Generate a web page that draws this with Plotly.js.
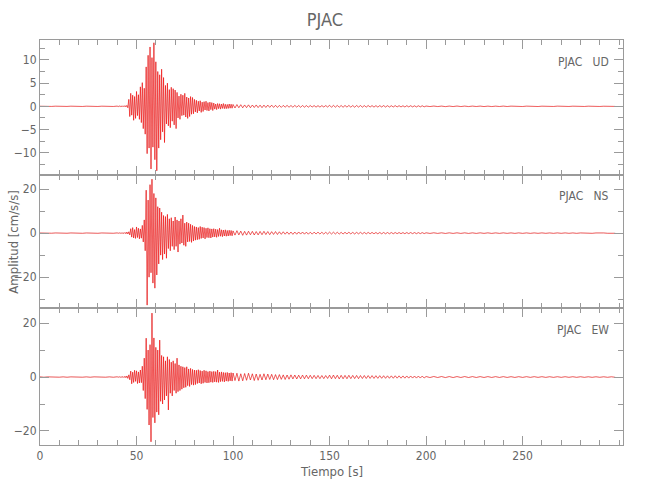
<!DOCTYPE html>
<html>
<head>
<meta charset="utf-8">
<script src="https://cdn.plot.ly/plotly-3.0.1.min.js"></script>
<style>html,body{margin:0;padding:0;background:#fff;}#chart{width:650px;height:500px;}</style>
</head>
<body>
<div id="chart"></div>
<script>
// Station / component labels
const station = "PJAC";
const components = ["UD", "NS", "EW"];
const xTickVals = [0, 50, 100, 150, 200, 250];

// Sampling: pre-event 0-38 s every 2 s, main 40-99.5 s every 0.5 s,
// early coda 100-199 s every 1 s, late coda 200-298 s every 2 s
const preStart = 0, preDt = 2;
const mainStart = 40, mainDt = 0.5;
const codaStart = 100, codaDt = 1;
const lateStart = 200, lateDt = 2;

// UD component (cm/s/s)
const udPre = [0.02,-0.03,0.03,-0.02,0.03,-0.03,0.02,-0.02,0.03,-0.03,0.02,-0.03,0.03,-0.02,0.02,-0.03,0.03,-0.02,0.03,-0.03];
const udMain = [0.05,-0.08,0.1,-0.06,0.08,-0.1,0.12,-0.09,0.15,-0.12,0.2,-0.3,
  1.5,-2.2,2.8,-1.9,2.4,-3.0,2.1,-2.6,3.2,-2.0,2.5,-2.8,
  4.2,-3.5,5.1,-4.8,3.9,-6.0,
  8.5,-10.2,11.0,-9.0,12.8,-13.5,10.5,-8.8,13.7,-11.5,9.6,-13.9,
  7.5,-9.0,6.8,-7.2,8.0,-5.5,6.2,-7.8,
  4.5,-3.8,5.0,-4.2,3.6,-4.6,4.1,-3.2,3.8,-4.0,3.5,-4.8,
  3.0,-2.5,2.2,-2.8,2.6,-2.0,2.4,-1.9,2.8,-2.3,2.0,-2.6,1.8,-2.2,2.1,-1.7,1.9,-1.6,
  1.5,-1.2,1.3,-1.4,1.1,-1.0,1.2,-1.3,0.9,-1.1,1.0,-0.8,1.1,-0.9,0.8,-1.0,0.9,-0.7,0.8,-0.9,
  0.7,-0.6,0.5,-0.7,0.6,-0.5,0.55,-0.6,0.5,-0.45,0.6,-0.5,0.45,-0.5,0.4,-0.45,0.5,-0.4,0.45,-0.4];
const udCoda = [0.4,-0.35,0.38,-0.3,0.35,-0.32,0.3,-0.28,0.32,-0.3,0.28,-0.25,0.3,-0.27,0.25,-0.28,0.26,-0.24,0.27,-0.22,0.25,-0.23,0.22,-0.24,0.2,
  -0.22,0.2,-0.18,0.21,-0.2,0.18,-0.19,0.2,-0.17,0.18,-0.2,0.17,-0.18,0.16,-0.18,0.17,-0.15,0.16,-0.17,0.15,-0.16,0.15,-0.14,0.16,-0.15,
  0.22,-0.2,0.21,-0.18,0.2,-0.19,0.18,-0.2,0.19,-0.17,0.2,-0.18,0.17,-0.19,0.18,-0.16,0.17,-0.18,0.16,-0.17,0.18,-0.15,0.16,-0.17,0.15,
  -0.16,0.15,-0.14,0.16,-0.15,0.14,-0.15,0.13,-0.14,0.15,-0.13,0.14,-0.13,0.12,-0.14,0.13,-0.12,0.13,-0.12,0.11,-0.13,0.12,-0.11,0.12,-0.11];
const udLate = [0.06,-0.05,0.06,-0.05,0.05,-0.06,0.05,-0.05,0.06,-0.05,0.05,-0.05,0.05,-0.04,0.05,-0.05,0.04,-0.05,0.04,-0.04,0.05,-0.04,0.04,-0.04,0.04,
  -0.04,0.04,-0.03,0.04,-0.04,0.03,-0.04,0.03,-0.03,0.04,-0.03,0.03,-0.03,0.03,-0.03,0.03,-0.03,0.03,-0.02,0.03,-0.03,0.02,-0.03,0.02,-0.02];

// NS component (cm/s/s)
const nsPre = [0.06,-0.08,0.07,-0.05,0.08,-0.07,0.05,-0.06,0.08,-0.07,0.06,-0.08,0.07,-0.06,0.05,-0.08,0.07,-0.06,0.08,-0.07];
const nsMain = [0.1,-0.1,0.15,-0.1,0.1,-0.15,0.2,-0.2,0.3,-0.3,0.5,-0.4,0.6,-0.8,
  2.0,-1.8,2.5,-2.2,1.6,-2.4,2.8,-2.0,2.2,-2.6,1.9,-2.3,
  3.5,-4.0,6.0,-8.0,
  19.5,-32.7,15.0,-20.0,22.0,-18.0,24.5,-22.7,18.0,-25.0,16.0,-19.0,
  12.0,-14.0,11.4,-10.0,9.5,-12.0,8.0,-9.5,
  7.5,-11.4,8.5,-7.0,6.5,-8.0,7.0,-6.0,5.5,-7.5,7.3,-6.0,
  6.0,-8.6,5.5,-5.0,6.5,-4.5,8.2,-5.5,4.5,-6.0,5.0,-4.0,4.5,-3.8,4.0,-4.2,3.5,-3.6,
  3.0,-3.2,2.8,-3.0,2.5,-2.8,3.0,-2.4,2.7,-2.2,2.5,-2.6,2.2,-2.0,2.4,-2.1,2.0,-2.2,1.9,-1.8,
  2.0,-1.7,1.8,-1.9,1.6,-1.5,2.2,-1.4,1.5,-1.6,1.4,-1.3,1.5,-1.4,1.2,-1.3,1.3,-1.1,1.2,-1.2];
const nsCoda = [1.0,-0.9,1.1,-0.8,0.9,-1.0,0.8,-0.9,0.85,-0.75,0.8,-0.85,0.7,-0.8,0.75,-0.7,0.8,-0.65,0.7,-0.7,0.65,-0.6,0.7,-0.62,0.6,
  -0.55,0.6,-0.5,0.55,-0.52,0.5,-0.55,0.48,-0.5,0.52,-0.45,0.5,-0.48,0.45,-0.5,0.42,-0.45,0.44,-0.4,0.45,-0.42,0.4,-0.43,0.38,-0.4,
  0.45,-0.4,0.42,-0.38,0.4,-0.42,0.36,-0.4,0.38,-0.35,0.4,-0.36,0.34,-0.38,0.35,-0.33,0.36,-0.34,0.32,-0.35,0.33,-0.31,0.34,-0.32,0.3,
  -0.32,0.3,-0.31,0.29,-0.3,0.28,-0.3,0.27,-0.29,0.28,-0.26,0.28,-0.27,0.25,-0.27,0.26,-0.25,0.26,-0.24,0.25,-0.25,0.23,-0.24,0.24,-0.22];
const nsLate = [0.15,-0.14,0.15,-0.13,0.14,-0.15,0.13,-0.14,0.14,-0.13,0.13,-0.14,0.12,-0.13,0.13,-0.12,0.12,-0.13,0.11,-0.12,0.12,-0.11,0.11,-0.12,0.11,
  -0.11,0.1,-0.11,0.1,-0.1,0.11,-0.1,0.09,-0.1,0.1,-0.09,0.1,-0.09,0.09,-0.1,0.09,-0.08,0.09,-0.09,0.08,-0.09,0.08,-0.08,0.08,-0.08];

// EW component (cm/s/s)
const ewPre = [0.07,-0.08,0.06,-0.07,0.08,-0.06,0.07,-0.08,0.06,-0.07,0.08,-0.07,0.06,-0.08,0.07,-0.06,0.08,-0.07,0.06,-0.08];
const ewMain = [0.1,-0.1,0.15,-0.12,0.1,-0.15,0.2,-0.2,0.3,-0.25,0.4,-0.5,0.8,-1.0,
  2.2,-2.5,1.8,-2.0,2.5,-1.6,2.3,-2.4,1.9,-2.2,2.6,-2.1,
  4.0,-5.0,7.0,-8.0,
  14.4,-12.0,10.0,-17.8,12.0,-24.0,23.7,-15.0,14.5,-17.0,11.0,-13.0,
  10.0,-14.0,13.7,-9.0,8.0,-10.0,7.5,-8.5,
  6.0,-7.0,7.5,-12.2,6.5,-6.0,5.5,-7.0,6.0,-5.0,5.0,-6.0,
  7.0,-5.4,4.5,-5.0,4.0,-4.5,3.8,-4.0,3.5,-3.8,3.8,-3.2,3.0,-3.5,3.2,-2.8,2.8,-3.0,
  2.6,-2.8,2.5,-2.4,2.7,-2.2,2.4,-2.5,2.2,-2.3,2.5,-2.0,2.3,-2.2,2.0,-2.1,2.2,-1.9,2.0,-2.0,
  2.1,-1.8,2.0,-1.9,2.6,-2.0,1.8,-1.7,1.9,-1.6,1.7,-1.8,1.6,-1.5,1.7,-1.6,1.5,-1.4,1.6,-1.5];
const ewCoda = [1.5,-1.3,1.4,-1.5,1.2,-1.4,1.3,-1.2,1.4,-1.1,1.2,-1.3,1.1,-1.2,1.0,-1.1,1.2,-1.0,1.1,-0.9,1.0,-1.0,0.9,-0.95,0.9,
  -0.85,0.8,-0.9,0.75,-0.8,0.8,-0.7,0.75,-0.72,0.7,-0.68,0.72,-0.65,0.7,-0.62,0.65,-0.6,0.62,-0.6,0.58,-0.6,0.55,-0.58,0.55,-0.52,
  0.7,-0.65,0.72,-0.6,0.66,-0.7,0.62,-0.64,0.6,-0.62,0.64,-0.58,0.6,-0.56,0.58,-0.6,0.55,-0.54,0.56,-0.52,0.54,-0.5,0.52,-0.5,0.5,
  -0.48,0.5,-0.46,0.48,-0.47,0.45,-0.46,0.44,-0.45,0.46,-0.42,0.44,-0.43,0.41,-0.42,0.4,-0.41,0.4,-0.39,0.38,-0.4,0.37,-0.38,0.36,-0.36];
const ewLate = [0.2,-0.19,0.2,-0.18,0.19,-0.2,0.18,-0.19,0.18,-0.17,0.18,-0.18,0.17,-0.17,0.16,-0.17,0.16,-0.16,0.15,-0.16,0.15,-0.15,0.14,-0.15,0.14,
  -0.14,0.14,-0.13,0.14,-0.13,0.13,-0.13,0.12,-0.13,0.12,-0.12,0.12,-0.11,0.12,-0.11,0.11,-0.11,0.1,-0.11,0.1,-0.1,0.1,-0.1,0.09,-0.1];

function series(pre, main, coda, late) {
  const x = [], y = [];
  pre.forEach((v, i) => { x.push(preStart + i * preDt); y.push(v); });
  main.forEach((v, i) => { x.push(mainStart + i * mainDt); y.push(v); });
  coda.forEach((v, i) => { x.push(codaStart + i * codaDt); y.push(v); });
  late.forEach((v, i) => { x.push(lateStart + i * lateDt); y.push(v); });
  return {x, y};
}

const comps = [series(udPre, udMain, udCoda, udLate), series(nsPre, nsMain, nsCoda, nsLate), series(ewPre, ewMain, ewCoda, ewLate)];
const axSuffix = ["", "2", "3"];

const traces = [];
comps.forEach((s, k) => {
  traces.push({x: s.x, y: s.y, type: "scatter", mode: "lines", xaxis: "x" + axSuffix[k], yaxis: "y" + axSuffix[k],
    line: {color: "#000000", width: 0.5}, opacity: 0.25, hoverinfo: "skip", showlegend: false});
  traces.push({x: s.x, y: s.y, type: "scatter", mode: "lines", xaxis: "x" + axSuffix[k], yaxis: "y" + axSuffix[k],
    line: {color: "#ff0000", width: 0.6}, opacity: 0.95, hoverinfo: "skip", showlegend: false});
});

const FONT = "'DejaVu Sans Condensed', 'Liberation Sans Narrow', 'Liberation Sans', sans-serif";
const axisColor = "#9a9a9a";
const textColor = "#666666";

function xax(anchor, labels) {
  return {anchor: anchor, range: [0, 302], tickvals: xTickVals, showticklabels: labels,
    ticks: "inside", ticklen: 9, tickcolor: axisColor, tickwidth: 1,
    minor: {ticks: "inside", ticklen: 5, dtick: 10, tick0: 0, tickcolor: axisColor, showgrid: false},
    showline: true, linecolor: axisColor, linewidth: 1, mirror: "ticks",
    showgrid: false, zeroline: false, tickfont: {family: FONT, size: 12, color: textColor, weight: 300}};
}
function yax(anchor, domain, range, dtick, minorDtick) {
  return {anchor: anchor, domain: domain, range: range, dtick: dtick, tick0: 0,
    ticks: "inside", ticklen: 9, tickcolor: axisColor, tickwidth: 1,
    minor: {ticks: "inside", ticklen: 5, dtick: minorDtick, tick0: 0, tickcolor: axisColor, showgrid: false},
    showline: true, linecolor: axisColor, linewidth: 1, mirror: "ticks",
    showgrid: false, zeroline: false, tickfont: {family: FONT, size: 12, color: textColor, weight: 300}};
}

const layout = {
  width: 650, height: 500,
  margin: {l: 40, r: 27, t: 40, b: 55},
  paper_bgcolor: "#ffffff", plot_bgcolor: "#ffffff",
  title: {text: station, x: 0.5, xanchor: "center", y: 0.96, yanchor: "middle",
    font: {family: FONT, size: 18, color: textColor, weight: 300}},
  xaxis: xax("y", false),
  xaxis2: xax("y2", false),
  xaxis3: xax("y3", true),
  yaxis: yax("x", [0.6667, 1], [-14.8, 14.3], 5, 2.5),
  yaxis2: yax("x2", [0.3383, 0.6667], [-34, 26.4], 20, 10),
  yaxis3: yax("x3", [0, 0.3383], [-25.2, 25.6], 20, 10),
  annotations: components.map((c, k) => ({
    text: station + "&nbsp;&nbsp;&nbsp;" + c, xref: "paper", yref: "paper",
    x: 0.98, xanchor: "right",
    y: [0.945, 0.615, 0.283][k], yanchor: "middle", showarrow: false,
    font: {family: FONT, size: 12, color: textColor, weight: 300}
  })).concat([
    {text: "Amplitud [cm/s/s]", xref: "paper", yref: "paper", x: -0.046, y: 0.5, xanchor: "center", yanchor: "middle",
      textangle: -90, showarrow: false, font: {family: FONT, size: 13, color: textColor, weight: 300}},
    {text: "Tiempo [s]", xref: "paper", yref: "paper", x: 0.5, y: -0.066, xanchor: "center", yanchor: "middle",
      showarrow: false, font: {family: FONT, size: 13, color: textColor, weight: 300}}
  ])
};

Plotly.newPlot("chart", traces, layout, {staticPlot: true, displayModeBar: false});
</script>
</body>
</html>
